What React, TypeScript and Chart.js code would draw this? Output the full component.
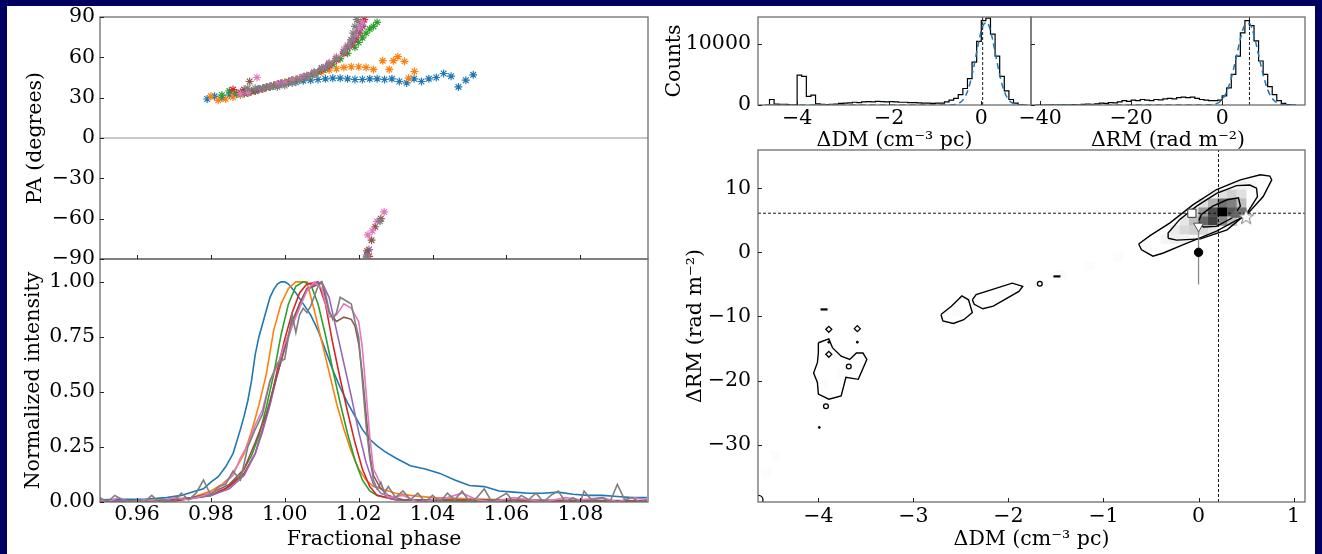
import React, { useEffect, useRef } from 'react';
import { Chart, registerables } from 'chart.js';
Chart.register(...registerables);

// ---------------- data ----------------
const phaseMin = 0.95;
const phaseMax = 1.0983;
const phaseTicks = [0.96, 0.98, 1.0, 1.02, 1.04, 1.06, 1.08];
const paTicks = [-90, -60, -30, 0, 30, 60, 90];
const intTicks = [0, 0.25, 0.5, 0.75, 1.0];
const countTicks = [0, 10000];
const dmHistTicks = [-4, -2, 0];
const rmHistTicks = [-40, -20, 0];
const dm2dTicks = [-4, -3, -2, -1, 0, 1];
const rm2dTicks = [-30, -20, -10, 0, 10];

const paBlue = [[0.979,29],[0.981,31],[0.983,30],[0.985,32],[0.987,32.5],[0.989,33.5],[0.991,35],[0.993,36.5],[0.995,38],[0.997,39],[0.999,40],[1.001,41],[1.003,41.5],[1.005,42.5],[1.007,43],[1.009,43.5],[1.011,44],[1.013,44.5],[1.015,44.5],[1.017,44],[1.019,43.5],[1.021,43.5],[1.023,44],[1.025,44],[1.027,43.5],[1.029,44],[1.031,42],[1.033,41],[1.035,44],[1.037,42],[1.039,44],[1.041,45],[1.043,48],[1.045,46],[1.047,38],[1.049,43],[1.051,47]];
const paOrange = [[0.980,31],[0.982,28],[0.984,29],[0.986,30.5],[0.988,32],[0.990,33.5],[0.992,35],[0.994,36.5],[0.996,38],[0.998,40],[1.000,41.5],[1.002,43],[1.004,44.5],[1.006,46],[1.008,47.5],[1.010,49],[1.012,50.5],[1.014,51.5],[1.016,52.5],[1.018,53],[1.020,53],[1.022,52.5],[1.024,51],[1.0265,57.5],[1.0283,51],[1.0294,57.5],[1.0306,60.5],[1.0324,57],[1.0335,44.5],[1.0351,49.5]];
const paGreen = [[0.983,32],[0.985,35],[0.987,33],[0.989,33],[0.991,34.5],[0.993,36],[0.995,37.5],[0.997,39],[0.999,40.5],[1.001,42],[1.003,43.5],[1.005,45],[1.007,47],[1.009,49],[1.011,51.5],[1.013,55],[1.015,59],[1.017,63],[1.019,67.5],[1.020,71],[1.021,74.5],[1.022,78],[1.023,81],[1.024,83],[1.025,86]];
const paRed = [[0.986,36],[0.988,34],[0.990,33.5],[0.992,35],[0.994,36.5],[0.996,38],[0.998,39.5],[1.000,41],[1.002,42.5],[1.004,44],[1.006,46],[1.008,48],[1.010,51],[1.012,54],[1.014,58],[1.016,63],[1.018,69],[1.019,73],[1.020,78],[1.021,83],[1.0215,88],[1.0228,-88]];
const paPurple = [[0.990,34],[0.993,36],[0.996,38.5],[0.999,41],[1.002,43],[1.005,45.5],[1.008,48.5],[1.011,53],[1.014,59],[1.016,64],[1.018,70],[1.019,74],[1.020,79],[1.021,84],[1.0222,-87],[1.0228,-83]];
const paBrown = [[0.989,36],[0.9905,42],[0.992,35],[0.994,37],[0.996,38.5],[0.998,40],[1.000,41],[1.002,42.5],[1.004,44],[1.006,46],[1.008,48.5],[1.010,51.5],[1.012,55],[1.014,59],[1.016,64],[1.017,67],[1.018,71],[1.019,75],[1.020,80],[1.0205,86],[1.0223,-84],[1.0235,-76],[1.0245,-66],[1.026,-60]];
const paPink = [[0.988,33],[0.990,34],[0.9925,45],[0.994,37],[0.996,38.5],[0.998,40],[1.000,41],[1.002,43],[1.004,44.5],[1.006,46.5],[1.008,49],[1.010,52],[1.012,56],[1.014,60.5],[1.016,66],[1.017,69],[1.018,73],[1.019,77],[1.020,82],[1.021,86],[1.0222,-89],[1.0225,-72],[1.0237,-69],[1.025,-62],[1.0269,-55]];
const paGray = [[0.990,37],[0.992,37],[0.994,37],[0.996,38],[0.998,38],[1.000,39],[1.002,41],[1.004,43],[1.006,45.5],[1.008,48.5],[1.010,52],[1.012,55],[1.014,59],[1.016,64],[1.017,68],[1.018,73],[1.0185,78],[1.019,83],[1.0195,88],[1.0222,-88],[1.0258,-62]];

const intBlue = [[0.950,0.01],[0.956,0.012],[0.962,0.012],[0.968,0.02],[0.972,0.03],[0.975,0.045],[0.978,0.06],[0.980,0.09],[0.982,0.115],[0.984,0.16],[0.986,0.22],[0.988,0.33],[0.989,0.39],[0.990,0.46],[0.991,0.55],[0.992,0.67],[0.993,0.75],[0.994,0.81],[0.995,0.87],[0.996,0.93],[0.997,0.965],[0.998,0.99],[0.999,1.0],[1.000,1.0],[1.001,0.99],[1.003,0.95],[1.005,0.9],[1.007,0.85],[1.009,0.78],[1.011,0.69],[1.013,0.6],[1.015,0.52],[1.017,0.45],[1.019,0.39],[1.021,0.33],[1.023,0.285],[1.025,0.255],[1.027,0.23],[1.030,0.2],[1.034,0.165],[1.038,0.15],[1.042,0.13],[1.046,0.1],[1.050,0.075],[1.054,0.07],[1.058,0.05],[1.062,0.045],[1.066,0.04],[1.070,0.04],[1.074,0.045],[1.078,0.035],[1.082,0.03],[1.086,0.03],[1.090,0.025],[1.094,0.02],[1.098,0.02]];
const intOrange = [[0.950,0.0],[0.960,0.005],[0.970,0.01],[0.975,0.02],[0.980,0.05],[0.983,0.08],[0.985,0.11],[0.987,0.16],[0.989,0.22],[0.991,0.32],[0.993,0.44],[0.995,0.58],[0.997,0.78],[0.999,0.9],[1.001,0.97],[1.003,1.0],[1.006,1.0],[1.008,0.87],[1.010,0.73],[1.012,0.59],[1.014,0.45],[1.016,0.33],[1.018,0.23],[1.020,0.15],[1.022,0.1],[1.024,0.07],[1.026,0.06],[1.028,0.05],[1.030,0.04],[1.034,0.03],[1.040,0.02],[1.050,0.015],[1.060,0.01],[1.070,0.005],[1.080,0.005],[1.098,0.003]];
const intGreen = [[0.950,0.0],[0.970,0.005],[0.980,0.03],[0.984,0.06],[0.988,0.12],[0.991,0.21],[0.993,0.3],[0.995,0.43],[0.997,0.58],[0.999,0.76],[1.001,0.9],[1.003,0.98],[1.005,1.0],[1.007,0.99],[1.009,0.9],[1.011,0.76],[1.013,0.6],[1.015,0.45],[1.017,0.31],[1.019,0.19],[1.021,0.1],[1.023,0.05],[1.025,0.03],[1.030,0.01],[1.040,0.005],[1.098,0.0]];
const intRed = [[0.950,0.0],[0.970,0.005],[0.980,0.03],[0.985,0.07],[0.989,0.13],[0.992,0.22],[0.994,0.33],[0.996,0.45],[0.998,0.6],[1.000,0.74],[1.002,0.86],[1.004,0.95],[1.006,0.99],[1.009,1.0],[1.011,0.9],[1.013,0.72],[1.015,0.56],[1.017,0.41],[1.019,0.27],[1.021,0.15],[1.023,0.07],[1.025,0.03],[1.030,0.01],[1.098,0.0]];
const intPurple = [[0.950,0.01],[0.960,0.0],[0.970,0.01],[0.980,0.03],[0.985,0.06],[0.989,0.12],[0.992,0.22],[0.994,0.32],[0.996,0.44],[0.998,0.58],[1.000,0.7],[1.002,0.8],[1.004,0.9],[1.006,0.96],[1.008,0.99],[1.010,1.0],[1.012,0.93],[1.014,0.78],[1.016,0.63],[1.018,0.48],[1.020,0.32],[1.022,0.18],[1.024,0.08],[1.026,0.04],[1.030,0.01],[1.040,0.01],[1.098,0.005]];
const intBrown = [[0.950,0.0],[0.965,0.005],[0.975,0.02],[0.980,0.04],[0.985,0.08],[0.989,0.15],[0.992,0.27],[0.995,0.4],[0.998,0.58],[1.000,0.7],[1.002,0.82],[1.004,0.9],[1.006,0.97],[1.008,0.98],[1.010,1.0],[1.012,0.86],[1.014,0.82],[1.016,0.84],[1.018,0.83],[1.019,0.8],[1.020,0.72],[1.021,0.58],[1.022,0.4],[1.023,0.22],[1.024,0.12],[1.026,0.06],[1.028,0.03],[1.032,0.01],[1.098,0.005]];
const intPink = [[0.950,0.01],[0.952,0.0],[0.955,0.02],[0.958,0.0],[0.962,0.01],[0.966,0.0],[0.970,0.02],[0.974,0.01],[0.978,0.03],[0.981,0.05],[0.984,0.09],[0.986,0.12],[0.988,0.2],[0.990,0.26],[0.992,0.35],[0.994,0.42],[0.996,0.55],[0.998,0.62],[1.000,0.72],[1.002,0.8],[1.004,0.88],[1.006,0.96],[1.008,1.0],[1.010,0.97],[1.012,0.84],[1.014,0.85],[1.016,0.9],[1.018,0.88],[1.020,0.82],[1.021,0.7],[1.022,0.5],[1.023,0.3],[1.024,0.15],[1.026,0.08],[1.028,0.02],[1.032,0.03],[1.036,0.0],[1.040,0.01],[1.044,0.02],[1.048,0.04],[1.052,0.01],[1.056,0.0],[1.062,0.02],[1.066,0.01],[1.070,0.0],[1.076,0.02],[1.080,0.01],[1.086,0.02],[1.090,0.0],[1.094,0.02],[1.098,0.01]];
const intGray = [[0.950,0.02],[0.952,0.0],[0.954,0.03],[0.956,0.01],[0.958,0.0],[0.960,0.01],[0.962,0.0],[0.964,0.03],[0.966,0.0],[0.968,0.01],[0.970,0.0],[0.972,0.04],[0.974,0.01],[0.976,0.04],[0.978,0.1],[0.980,0.03],[0.982,0.07],[0.984,0.08],[0.986,0.14],[0.988,0.1],[0.990,0.25],[0.992,0.33],[0.994,0.4],[0.996,0.55],[0.998,0.63],[1.000,0.65],[1.001,0.75],[1.002,0.85],[1.003,0.77],[1.004,0.85],[1.005,0.88],[1.006,0.86],[1.007,0.89],[1.009,0.98],[1.010,1.0],[1.011,0.95],[1.012,0.87],[1.013,0.83],[1.014,0.86],[1.015,0.93],[1.017,0.91],[1.018,0.9],[1.019,0.82],[1.020,0.75],[1.021,0.55],[1.022,0.35],[1.023,0.2],[1.024,0.1],[1.025,0.06],[1.026,0.09],[1.027,0.04],[1.028,0.07],[1.030,0.02],[1.032,0.05],[1.034,0.01],[1.036,0.04],[1.038,0.0],[1.040,0.03],[1.042,0.0],[1.044,0.04],[1.046,0.01],[1.048,0.05],[1.050,0.0],[1.052,0.02],[1.054,0.06],[1.056,0.0],[1.058,0.02],[1.060,0.04],[1.062,0.0],[1.064,0.03],[1.066,0.01],[1.068,0.04],[1.070,0.0],[1.072,0.03],[1.074,0.05],[1.076,0.0],[1.078,0.02],[1.080,0.0],[1.081,0.05],[1.083,0.01],[1.086,0.02],[1.088,0.0],[1.090,0.08],[1.092,0.01],[1.094,0.02],[1.096,0.0],[1.098,0.01]];

// DM histogram (bins of 0.1 starting at -4.7)
const dmHistStart = -4.7;
const dmHistWidth = 0.1;
const dmHistCounts = [0,900,150,100,100,60,50,4900,4700,1400,1600,200,100,80,100,150,250,300,350,450,400,500,550,500,600,550,500,550,500,450,450,400,400,350,300,300,250,300,300,500,800,1100,1700,2700,4300,7000,10400,13800,14200,11600,8000,4700,2300,900,300,60,0];
const dmFitX = [-4.6,-1.08,-0.78,-0.68,-0.58,-0.48,-0.38,-0.28,-0.18,-0.08,0.02,0.12,0.22,0.32,0.42,0.52,0.62,0.72,0.82,0.92];
const dmFitY = [0,0,2,14,72,301,998,2647,5590,9420,12650,13540,11550,7860,4260,1840,634,174,38,7];
const dmBest = 0.03;

// RM histogram (bins of 1 starting at -41)
const rmHistStart = -41;
const rmHistWidth = 1;
const rmHistCounts = [0,0,0,20,0,30,20,40,60,50,100,150,120,200,300,250,400,350,500,700,600,800,700,900,800,700,900,850,1000,1100,1000,1200,1300,1200,1300,1100,900,800,700,700,800,1500,2800,5000,8000,11800,13800,13000,10500,7200,5000,3000,1700,700,250,80,20];
const rmFitX = [-41,-4,-3,-2,-1,0,1,2,3,4,5,6,7,8,9,10,11,12,13,14,15,17];
const rmFitY = [0,5,22,90,308,887,2150,4380,7506,10810,13080,13310,11390,8190,4960,2515,1075,386,117,30,6,0];
const rmBest = 6.0;

// 2D histogram cells: DM centre, RM centre, density (0..1)
const cellDm = [0.35,0.45,0.55,0.15,0.25,0.35,0.45,0.05,0.15,0.25,0.35,0.45,-0.05,0.05,0.15,0.25,0.35,0.45,-0.15,-0.05,0.05,0.15,0.25,0.35,-0.25,-0.15,-0.05,0.05,0.15,-0.35,-0.25,-0.15,-0.55,-0.85,-1.15,-1.45,-1.75,-2.05,-2.35,-2.55,-3.85,-3.75,-3.95,-4.45,-4.55];
const cellRm = [10.5,10.5,10.5,9.1,9.1,9.1,9.1,7.7,7.7,7.7,7.7,7.7,6.3,6.3,6.3,6.3,6.3,6.3,4.9,4.9,4.9,4.9,4.9,4.9,3.5,3.5,3.5,3.5,3.5,2.1,2.1,2.1,0.7,-0.7,-2.1,-3.5,-4.9,-6.3,-7.7,-9.1,-16.1,-18.9,-20.3,-31.5,-34.3];
const cellLevel = [0.04,0.06,0.04,0.06,0.12,0.18,0.12,0.12,0.3,0.55,0.5,0.25,0.15,0.4,0.7,1.0,0.65,0.55,0.1,0.25,0.6,0.75,0.45,0.25,0.08,0.15,0.18,0.15,0.1,0.04,0.06,0.05,0.015,0.012,0.012,0.015,0.015,0.015,0.015,0.015,0.015,0.015,0.012,0.01,0.01];
const cellDmWidth = 0.1;
const cellRmHeight = 1.4;

// contours (DM, RM)
const contourOuter = [[-0.63,1.3],[-0.6,0.4],[-0.48,-0.6],[-0.37,-0.1],[-0.16,1.2],[0.19,3.3],[0.51,5.9],[0.68,8.7],[0.77,11.3],[0.75,11.9],[0.65,12.1],[0.44,11.3],[0.19,9.8],[-0.06,7.4],[-0.3,4.6],[-0.51,2.6],[-0.63,1.3]];
const contourMid = [[-0.32,2.2],[-0.23,1.9],[0.02,2.1],[0.3,3.5],[0.51,6.1],[0.62,8.7],[0.61,10.0],[0.54,10.5],[0.4,10.4],[0.19,9.2],[-0.02,7.2],[-0.2,5.1],[-0.32,3.0],[-0.32,2.2]];
const contourInner = [[0.0,4.8],[0.05,3.95],[0.19,4.05],[0.35,5.35],[0.44,7.2],[0.42,8.5],[0.3,8.2],[0.15,7.2],[0.03,5.9],[0.0,4.8]];
const contourArmA = [[-2.38,-7.4],[-2.34,-6.6],[-1.96,-4.8],[-1.85,-5.3],[-1.89,-6.1],[-2.16,-8.4],[-2.27,-8.8],[-2.36,-8.1],[-2.38,-7.4]];
const contourArmB = [[-2.71,-9.7],[-2.6,-8.4],[-2.49,-6.8],[-2.42,-7.4],[-2.4,-8.4],[-2.38,-9.4],[-2.47,-10.5],[-2.58,-11.1],[-2.69,-10.7],[-2.71,-9.7]];
const contourLeft = [[-4.0,-14.1],[-3.89,-13.5],[-3.85,-14.9],[-3.76,-16.2],[-3.67,-16.7],[-3.6,-15.7],[-3.53,-15.7],[-3.49,-16.7],[-3.58,-19.8],[-3.71,-19.5],[-3.76,-22.4],[-3.89,-22.9],[-4.0,-22.1],[-4.01,-20.3],[-4.05,-18.8],[-4.01,-17.2],[-4.0,-15.7],[-4.0,-14.1]];
const blobRings = [[-1.67,-4.9],[-3.92,-24.0],[-3.68,-17.8]];
const blobDiamonds = [[-3.89,-12.0],[-3.89,-15.9],[-3.59,-11.9]];
const blobDots = [[-3.89,-14.0],[-3.59,-14.0],[-3.99,-27.3]];
const blobDashes = [[-1.49,-3.75],[-3.94,-8.9]];
const blobCorner = [[-4.63,-38.6]];

// measurements
const markSquare = [[-0.07,6.1]];
const markDownTri = [[0.0,4.1]];
const markCircle = [[0.0,0.0]];
const markCircleErr = [[0.0,-5.0],[0.0,5.0]];
const markUpTri = [[0.39,5.9]];
const markStar = [[0.5,5.6]];
const best2dDm = 0.21;
const best2dRm = 6.1;

// ---------------- styling ----------------
const FONT = "'DejaVu Serif', serif";
const FS = 20.5;
const NAVY = '#000060';
const TAB10 = ['#1f77b4','#ff7f0e','#2ca02c','#d62728','#9467bd','#8c564b','#e377c2','#7f7f7f'];
const SPINE = '#6e6e6e';

const xy = (arr: number[][]) => arr.map(([x, y]) => ({ x, y }));
const fmtInt = (v: number) => { const r = Math.round(v * 1000) / 1000; return r < 0 ? '\u2212' + String(Math.abs(r)) : String(r); };

function histPoints(start: number, width: number, counts: number[]) {
  const pts = [{ x: start, y: 0 }];
  counts.forEach((c, i) => pts.push({ x: start + i * width, y: c }));
  pts.push({ x: start + counts.length * width, y: 0 });
  return pts;
}

function axis(o: any) {
  return {
    type: 'linear', min: o.min, max: o.max, position: o.pos,
    grid: { display: false, drawTicks: false },
    border: { display: false },
    afterBuildTicks: (s: any) => { s.ticks = o.ticks.map((v: number) => ({ value: v })); },
    ticks: {
      display: o.labels !== false, autoSkip: false,
      maxRotation: 0, minRotation: 0, padding: o.pad ?? 3, color: '#000',
      font: { family: FONT, size: FS }, callback: o.fmt || ((v: number) => String(v)),
    },
    title: o.title ? { display: true, text: o.title, color: '#000', font: { family: FONT, size: FS }, padding: { top: o.tpad, bottom: o.tpad } } : { display: false },
    afterFit: (s: any) => {
      if (o.pos === 'left') s.width = o.size; else s.height = o.size;
      s.paddingTop = 0; s.paddingBottom = 0; s.paddingLeft = 0; s.paddingRight = 0;
    },
  };
}

function baseOptions(pad: any, scales: any) {
  return {
    responsive: false, maintainAspectRatio: false, animation: false, devicePixelRatio: 1, events: [],
    layout: { padding: pad, autoPadding: false },
    plugins: { legend: { display: false }, tooltip: { enabled: false }, title: { display: false } },
    elements: { line: { tension: 0 } },
    scales,
  };
}

function framePlugin(cfg: { xt: boolean; yt: boolean }) {
  return {
    id: 'frame',
    afterDraw(chart: any) {
      const { ctx, chartArea: a } = chart;
      ctx.save();
      ctx.strokeStyle = SPINE;
      ctx.lineWidth = 1.3;
      ctx.strokeRect(a.left, a.top, a.right - a.left, a.bottom - a.top);
      ctx.strokeStyle = '#222';
      ctx.lineWidth = 1;
      const L = 4;
      const xs = chart.scales.x, ys = chart.scales.y;
      if (cfg.xt) xs.ticks.forEach((t: any) => { const p = Math.round(xs.getPixelForValue(t.value)) + 0.5; ctx.beginPath(); ctx.moveTo(p, a.bottom); ctx.lineTo(p, a.bottom - L); ctx.stroke(); });
      if (cfg.yt) ys.ticks.forEach((t: any) => { const p = Math.round(ys.getPixelForValue(t.value)) + 0.5; ctx.beginPath(); ctx.moveTo(a.left, p); ctx.lineTo(a.left + L, p); ctx.stroke(); });
      ctx.restore();
    },
  };
}

const heatPlugin = {
  id: 'heat',
  beforeDatasetsDraw(chart: any) {
    const { ctx, chartArea: a } = chart;
    const xs = chart.scales.x, ys = chart.scales.y;
    ctx.save();
    ctx.beginPath(); ctx.rect(a.left, a.top, a.right - a.left, a.bottom - a.top); ctx.clip();
    cellDm.forEach((dm, i) => {
      const rm = cellRm[i];
      const x0 = xs.getPixelForValue(dm - cellDmWidth / 2), x1 = xs.getPixelForValue(dm + cellDmWidth / 2);
      const y0 = ys.getPixelForValue(rm + cellRmHeight / 2), y1 = ys.getPixelForValue(rm - cellRmHeight / 2);
      const g = Math.round(255 * (1 - cellLevel[i]));
      ctx.fillStyle = `rgb(${g},${g},${g})`;
      ctx.fillRect(x0, y0, x1 - x0 + 0.4, y1 - y0 + 0.4);
    });
    ctx.restore();
  },
};

function starImage() {
  const c = document.createElement('canvas');
  c.width = 18; c.height = 18;
  const g = c.getContext('2d')!;
  g.beginPath();
  for (let i = 0; i < 10; i++) {
    const r = i % 2 === 0 ? 8 : 3.3;
    const ang = -Math.PI / 2 + (i * Math.PI) / 5;
    g.lineTo(9 + r * Math.cos(ang), 9.8 + r * Math.sin(ang));
  }
  g.closePath();
  g.fillStyle = '#fff'; g.fill();
  g.strokeStyle = '#777'; g.lineWidth = 1; g.stroke();
  return c;
}

// ---------------- chart builders ----------------
const paSeries = [paBlue, paOrange, paGreen, paRed, paPurple, paBrown, paPink, paGray];
const intSeries = [intBlue, intOrange, intGreen, intRed, intPurple, intBrown, intPink, intGray];

function buildPA() {
  const datasets: any[] = [
    { data: xy([[phaseMin, 0], [phaseMax, 0]]), borderColor: '#b4b4b4', borderWidth: 1.5, pointRadius: 0, order: 20 },
  ];
  paSeries.forEach((s, i) => datasets.push({
    data: xy(s), showLine: false, pointStyle: 'star', pointRadius: 4,
    pointBorderColor: TAB10[i], pointBackgroundColor: 'rgba(0,0,0,0)', pointBorderWidth: 1.15,
    borderColor: TAB10[i], order: 10 - i, clip: 0,
  }));
  return {
    type: 'line',
    data: { datasets },
    options: baseOptions({ left: 0, top: 17, right: 12, bottom: 21 }, {
      x: axis({ min: phaseMin, max: phaseMax, pos: 'bottom', ticks: phaseTicks, labels: false, size: 0 }),
      y: axis({ min: -90, max: 90, pos: 'left', ticks: paTicks, size: 100, pad: 5, fmt: fmtInt, title: 'PA (degrees)', tpad: 23.5 }),
    }),
    plugins: [framePlugin({ xt: true, yt: true })],
  };
}

function buildIntensity() {
  const datasets = intSeries.map((s, i) => ({
    data: xy(s), borderColor: TAB10[i], borderWidth: 1.6, pointRadius: 0, order: 10 - i, clip: 0,
  }));
  return {
    type: 'line',
    data: { datasets },
    options: baseOptions({ left: 0, top: 9, right: 12, bottom: 0 }, {
      x: axis({ min: phaseMin, max: phaseMax, pos: 'bottom', ticks: phaseTicks, size: 52, pad: 0, fmt: (v: number) => v.toFixed(2), title: 'Fractional phase', tpad: 1.7 }),
      y: axis({ min: 0, max: 1.104, pos: 'left', ticks: intTicks, size: 100, pad: 5, fmt: (v: number) => v.toFixed(2), title: 'Normalized intensity', tpad: 21.5 }),
    }),
    plugins: [framePlugin({ xt: true, yt: true })],
  };
}

function buildHist(kind: 'dm' | 'rm') {
  const isDm = kind === 'dm';
  const hist = isDm ? histPoints(dmHistStart, dmHistWidth, dmHistCounts) : histPoints(rmHistStart, rmHistWidth, rmHistCounts);
  const fx = isDm ? dmFitX : rmFitX, fy = isDm ? dmFitY : rmFitY;
  const best = isDm ? dmBest : rmBest;
  const datasets = [
    { data: fx.map((x, i) => ({ x, y: fy[i] })), borderColor: '#1f77b4', borderWidth: 1.5, borderDash: [6, 4], pointRadius: 0, cubicInterpolationMode: 'monotone', order: 0 },
    { data: hist, stepped: true, borderColor: '#000', borderWidth: 1.2, pointRadius: 0, order: 1 },
    { data: [{ x: best, y: 0 }, { x: best, y: 14400 }], borderColor: '#000', borderWidth: 0.9, borderDash: [3, 2], pointRadius: 0, order: 2 },
  ];
  const x = isDm
    ? axis({ min: -4.85, max: 1.08, pos: 'bottom', ticks: dmHistTicks, size: 57, pad: 1, fmt: fmtInt, title: 'ΔDM (cm⁻³ pc)', tpad: 8.7 })
    : axis({ min: -42, max: 18.2, pos: 'bottom', ticks: rmHistTicks, size: 57, pad: 1, fmt: fmtInt, title: 'ΔRM (rad m⁻²)', tpad: 8.7 });
  const y = isDm
    ? axis({ min: 0, max: 14400, pos: 'left', ticks: countTicks, size: 98, pad: 7, title: 'Counts', tpad: 2.7 })
    : axis({ min: 0, max: 14400, pos: 'left', ticks: countTicks, size: 31, labels: false });
  return {
    type: 'line',
    data: { datasets },
    options: baseOptions(isDm ? { left: 0, top: 17, right: 9, bottom: 0 } : { left: 0, top: 17, right: 17, bottom: 0 }, { x, y }),
    plugins: [framePlugin({ xt: true, yt: true })],
  };
}

function build2D() {
  const star = starImage();
  const contour = (c: number[][]) => ({ data: xy(c), borderColor: '#000', borderWidth: 1.4, pointRadius: 0, order: 5, clip: 0 });
  const datasets: any[] = [
    contour(contourOuter), contour(contourMid), contour(contourInner),
    contour(contourArmA), contour(contourArmB), contour(contourLeft),
    { data: xy(blobRings), showLine: false, pointStyle: 'circle', pointRadius: 2.4, pointBorderColor: '#000', pointBackgroundColor: 'rgba(0,0,0,0)', pointBorderWidth: 1.3, order: 5 },
    { data: xy(blobDiamonds), showLine: false, pointStyle: 'rectRot', pointRadius: 3, pointBorderColor: '#000', pointBackgroundColor: 'rgba(0,0,0,0)', pointBorderWidth: 1.3, order: 5 },
    { data: xy(blobDots), showLine: false, pointStyle: 'circle', pointRadius: 1, pointBorderColor: '#000', pointBackgroundColor: '#000', pointBorderWidth: 1, order: 5 },
    { data: xy(blobDashes), showLine: false, pointStyle: 'line', pointRadius: 3.5, pointBorderColor: '#000', pointBorderWidth: 2.2, order: 5 },
    { data: xy(blobCorner), showLine: false, pointStyle: 'circle', pointRadius: 4.5, pointBorderColor: '#000', pointBackgroundColor: 'rgba(0,0,0,0)', pointBorderWidth: 1.3, order: 5, clip: 0 },
    { data: xy([[-4.635, best2dRm], [1.12, best2dRm]]), borderColor: '#000', borderWidth: 0.9, borderDash: [3, 2], pointRadius: 0, order: 4 },
    { data: xy([[best2dDm, -38.93], [best2dDm, 15.96]]), borderColor: '#000', borderWidth: 0.9, borderDash: [3, 2], pointRadius: 0, order: 4 },
    { data: xy(markCircleErr), borderColor: '#8a8a8a', borderWidth: 1.3, pointRadius: 0, order: 3 },
    { data: xy(markCircle), showLine: false, pointStyle: 'circle', pointRadius: 4.2, pointBackgroundColor: '#000', pointBorderColor: '#000', order: 1 },
    { data: xy(markUpTri), showLine: false, pointStyle: 'triangle', pointRadius: 5.5, pointBackgroundColor: '#666', pointBorderColor: '#666', order: 1 },
    { data: xy(markSquare), showLine: false, pointStyle: 'rect', pointRadius: 5.8, pointBackgroundColor: '#fff', pointBorderColor: '#333', pointBorderWidth: 1, order: 0 },
    { data: xy(markDownTri), showLine: false, pointStyle: 'triangle', pointRotation: 180, pointRadius: 5.8, pointBackgroundColor: '#fff', pointBorderColor: '#555', pointBorderWidth: 1, order: 0 },
    { data: xy(markStar), showLine: false, pointStyle: star, pointRadius: 8, order: 0 },
  ];
  return {
    type: 'line',
    data: { datasets },
    options: baseOptions({ left: 0, top: 10, right: 17, bottom: 0 }, {
      x: axis({ min: -4.635, max: 1.12, pos: 'bottom', ticks: dm2dTicks, size: 52, pad: 2, fmt: fmtInt, title: 'ΔDM (cm⁻³ pc)', tpad: 1.7 }),
      y: axis({ min: -38.93, max: 15.96, pos: 'left', ticks: rm2dTicks, size: 98, pad: 7, fmt: fmtInt, title: 'ΔRM (rad m⁻²)', tpad: 23.5 }),
    }),
    plugins: [heatPlugin, framePlugin({ xt: true, yt: true })],
  };
}

function ChartCanvas(props: { left: number; top: number; width: number; height: number; build: () => any }) {
  const ref = useRef<HTMLCanvasElement>(null);
  useEffect(() => {
    const chart = new Chart(ref.current as HTMLCanvasElement, props.build());
    return () => chart.destroy();
  }, []);
  const { left, top, width, height } = props;
  return <canvas ref={ref} width={width} height={height} style={{ position: 'absolute', left, top, width, height }} />;
}

export default function App() {
  return (
    <div style={{ position: 'fixed', left: 0, top: 0, width: 1322, height: 554, background: NAVY, overflow: 'hidden' }}>
      <div style={{ position: 'absolute', left: 7, top: 6, width: 1308, height: 548, background: '#fff' }} />
      <ChartCanvas left={0} top={250} width={660} height={304} build={buildIntensity} />
      <ChartCanvas left={0} top={0} width={660} height={280} build={buildPA} />
      <ChartCanvas left={660} top={0} width={380} height={162} build={() => buildHist('dm')} />
      <ChartCanvas left={1000} top={0} width={322} height={162} build={() => buildHist('rm')} />
      <ChartCanvas left={660} top={140} width={662} height={414} build={build2D} />
    </div>
  );
}
